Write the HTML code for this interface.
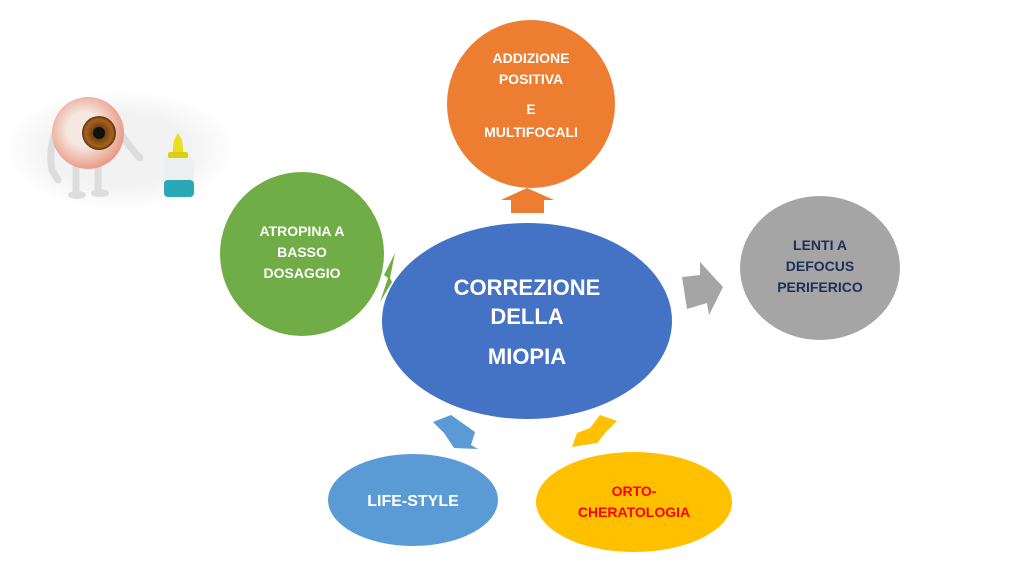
<!DOCTYPE html>
<html><head><style>
body{margin:0;width:1030px;height:571px;background:#fff;overflow:hidden}
svg{display:block}
text{font-family:"Liberation Sans",sans-serif;font-weight:bold;text-anchor:middle}
</style></head><body>
<svg width="1030" height="571" viewBox="0 0 1030 571">
<defs>
<radialGradient id="sh" cx="0.5" cy="0.5" r="0.5"><stop offset="0.6" stop-color="#f2f2f2"/><stop offset="1" stop-color="#fff"/></radialGradient>
<radialGradient id="eb" cx="0.45" cy="0.45" r="0.6"><stop offset="0.4" stop-color="#f5e8e0"/><stop offset="1" stop-color="#e8907a"/></radialGradient>
<radialGradient id="ir" cx="0.5" cy="0.5" r="0.5"><stop offset="0.3" stop-color="#6b3a10"/><stop offset="0.8" stop-color="#a8621e"/><stop offset="1" stop-color="#5a3010"/></radialGradient>
</defs>
<ellipse cx="120" cy="150" rx="115" ry="60" fill="url(#sh)"/>
<path d="M57 128 Q48 150 52 170 L58 180" stroke="#ddd" stroke-width="7" fill="none" stroke-linecap="round"/>
<path d="M122 135 Q132 150 140 158" stroke="#ddd" stroke-width="7" fill="none" stroke-linecap="round"/>
<line x1="76" y1="165" x2="76" y2="192" stroke="#ddd" stroke-width="7"/>
<line x1="98" y1="165" x2="98" y2="190" stroke="#ddd" stroke-width="7"/>
<ellipse cx="77" cy="195" rx="9" ry="4" fill="#ddd"/><ellipse cx="100" cy="193" rx="9" ry="4" fill="#ddd"/>
<circle cx="88" cy="133" r="36" fill="url(#eb)"/>
<circle cx="99" cy="133" r="17" fill="url(#ir)"/>
<circle cx="99" cy="133" r="6" fill="#111"/>
<rect x="164" y="157" width="30" height="40" rx="5" fill="#e8eef0" opacity="0.8"/>
<rect x="164" y="180" width="30" height="17" rx="4" fill="#2aa8b8"/>
<path d="M172 157 L174 140 L178 133 L182 140 L184 157 Z" fill="#e6e020"/>
<rect x="168" y="152" width="20" height="6" rx="2" fill="#d8d010"/>

<circle cx="531" cy="104" r="84" fill="#ed7d31"/>
<text x="531" y="63" font-size="14" fill="#fff">ADDIZIONE</text>
<text x="531" y="84" font-size="14" fill="#fff">POSITIVA</text>
<text x="531" y="114" font-size="14" fill="#fff">E</text>
<text x="531" y="137" font-size="14" fill="#fff">MULTIFOCALI</text>
<polygon points="501,200 527,188 554,200 544,200 544,213 511,213 511,200" fill="#ed7d31"/>

<circle cx="302" cy="254" r="82" fill="#70ad47"/>
<text x="302" y="236" font-size="14" fill="#fff">ATROPINA A</text>
<text x="302" y="257" font-size="14" fill="#fff">BASSO</text>
<text x="302" y="278" font-size="14" fill="#fff">DOSAGGIO</text>
<polygon points="395,253 384,275 388,278 380,302 392,282 390,278" fill="#70ad47"/>

<ellipse cx="527" cy="321" rx="145" ry="98" fill="#4472c4"/>
<text x="527" y="295" font-size="22" fill="#fff">CORREZIONE</text>
<text x="527" y="324" font-size="22" fill="#fff">DELLA</text>
<text x="527" y="364" font-size="22" fill="#fff">MIOPIA</text>

<ellipse cx="820" cy="268" rx="80" ry="72" fill="#a5a5a5"/>
<text x="820" y="250" font-size="14" fill="#1f2d5a">LENTI A</text>
<text x="820" y="271" font-size="14" fill="#1f2d5a">DEFOCUS</text>
<text x="820" y="292" font-size="14" fill="#1f2d5a">PERIFERICO</text>
<polygon points="682,277 700,275 700,262 723,287 709,315 707,303 687,309" fill="#a5a5a5"/>

<ellipse cx="413" cy="500" rx="85" ry="46" fill="#5b9bd5"/>
<text x="413" y="506" font-size="16" fill="#fff">LIFE-STYLE</text>
<polygon points="433,422 451,415 475,432 471,445 478,449 454,448 444,433" fill="#5b9bd5"/>

<ellipse cx="634" cy="502" rx="98" ry="50" fill="#ffc000"/>
<text x="634" y="496" font-size="14" fill="#ff0000">ORTO-</text>
<text x="634" y="517" font-size="14" fill="#ff0000">CHERATOLOGIA</text>
<polygon points="617,421 600,415 590,428 577,433 572,447 597,443 606,432" fill="#ffc000"/>
</svg>
</body></html>
